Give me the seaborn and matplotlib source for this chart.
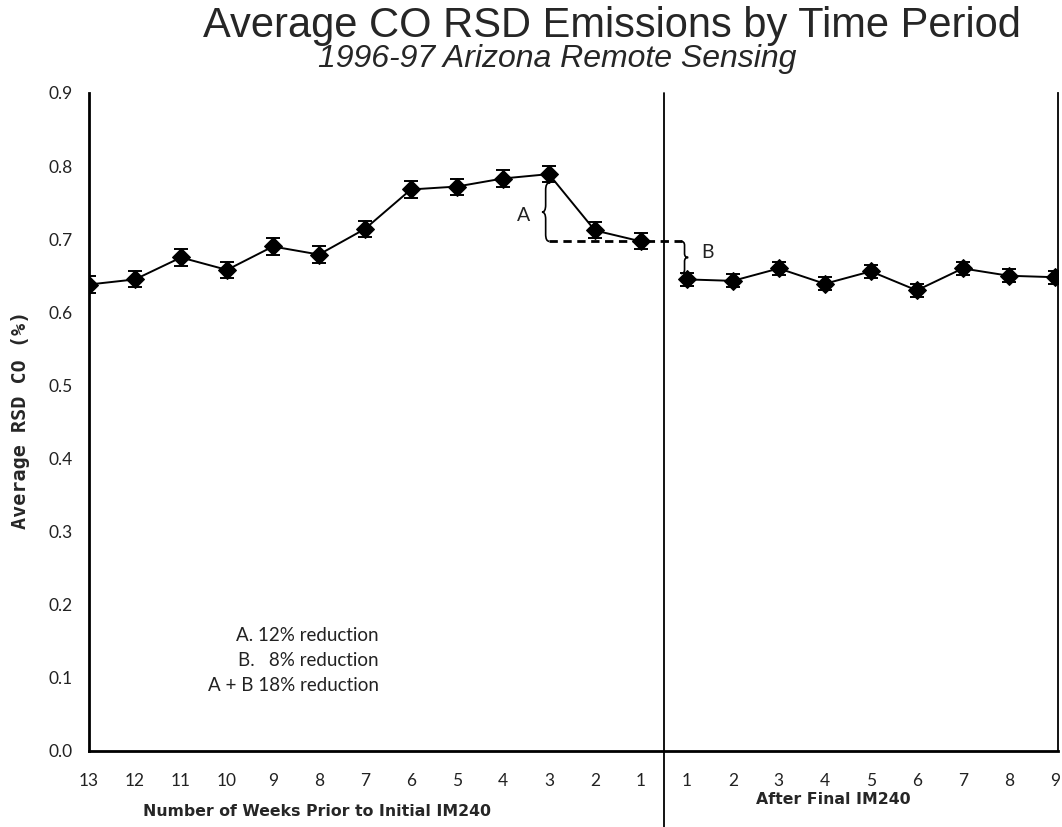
import numpy as np
import pandas as pd
import matplotlib
matplotlib.use("Agg")
import matplotlib.pyplot as plt
import seaborn as sns
from matplotlib.path import Path
from matplotlib.patches import PathPatch

# data
prior_weeks = ["13", "12", "11", "10", "9", "8", "7", "6", "5", "4", "3", "2", "1"]
prior_co = [0.638, 0.645, 0.675, 0.658, 0.690, 0.679, 0.714, 0.768, 0.772, 0.783, 0.789, 0.712, 0.697]
prior_err = [0.011] * 13
after_weeks = ["1", "2", "3", "4", "5", "6", "7", "8", "9"]
after_co = [0.645, 0.643, 0.660, 0.639, 0.656, 0.630, 0.660, 0.650, 0.648]
after_err = [0.009] * 9
notes = ["A. 12% reduction", "B.   8% reduction", "A + B 18% reduction"]

df = pd.DataFrame({
    "pos": np.arange(len(prior_co) + len(after_co)),
    "co": prior_co + after_co,
    "err": prior_err + after_err,
    "period": ["prior"] * len(prior_co) + ["after"] * len(after_co),
})
split = len(prior_co) - 0.5

sns.set_style("white")
plt.rcParams["font.family"] = ["Lato", "DejaVu Sans"]

fig = plt.figure(figsize=(10.62, 8.27), dpi=100)
ax = fig.add_axes([0.0838, 0.0919, 0.9124, 0.7957])

sns.lineplot(data=df, x="pos", y="co", hue="period", palette=["black", "black"],
             marker="D", markersize=9, markeredgecolor="black", lw=1.4,
             legend=False, ax=ax, zorder=3)
ax.errorbar(df["pos"], df["co"], yerr=df["err"], fmt="none", ecolor="black",
            elinewidth=1.2, capsize=5, capthick=1.4, zorder=2)

ax.set_xlim(0, len(df) - 1 + 0.07)
ax.set_ylim(0, 0.9)
ax.set_yticks(np.arange(0, 0.91, 0.1))
ax.set_yticklabels([f"{v:.1f}" for v in np.arange(0, 0.91, 0.1)], fontsize=12.5, color="#222222")
ax.set_xticks(df["pos"])
ax.set_xticklabels(prior_weeks + after_weeks, fontsize=12.5, color="#222222")
ax.tick_params(axis="both", direction="inout", length=12, width=1.2, colors="black",
               labelcolor="#222222")
ax.tick_params(axis="x", pad=10)
ax.tick_params(axis="y", pad=6)
ax.set_xlabel("")
ax.set_ylabel("Average RSD CO (%)", fontsize=14.5, fontweight="bold", family="DejaVu Sans Mono")
ax.yaxis.set_label_coords(-0.061, 0.503)

ax.spines["top"].set_visible(False)
ax.spines["left"].set_linewidth(2)
ax.spines["bottom"].set_linewidth(2)
ax.spines["right"].set_linewidth(1.3)
for s in ["left", "bottom", "right"]:
    ax.spines[s].set_color("black")

# divider between the two periods, running below the axis
ax.plot([split, split], [0.9, -0.105], color="black", lw=1.3, clip_on=False)


def brace(x, y0, y1, w, left=True):
    ym = (y0 + y1) / 2
    r = (y1 - y0) * 0.12
    s = 1 if left else -1
    verts = [(x + s * w / 2, y1), (x, y1), (x, y1 - r), (x, ym + r),
             (x, ym), (x - s * w / 2, ym), (x, ym), (x, ym - r),
             (x, y0 + r), (x, y0), (x + s * w / 2, y0)]
    codes = [Path.MOVETO, Path.CURVE3, Path.CURVE3, Path.LINETO,
             Path.CURVE3, Path.CURVE3, Path.CURVE3, Path.CURVE3,
             Path.LINETO, Path.CURVE3, Path.CURVE3]
    ax.add_patch(PathPatch(Path(verts, codes), fill=False, lw=1.2, color="black"))


# A: drop from week 3 peak to week 1, B: drop to the period after
brace(9.93, prior_co[-1], prior_co[10] - 0.012, 0.16, left=True)
ax.plot([10.0, 12.9], [prior_co[-1], prior_co[-1]], color="black", lw=2, ls=(0, (3, 2)))
brace(12.95, after_co[0] + 0.008, prior_co[-1], 0.16, left=False)
ax.text(9.45, 0.733, "A", fontsize=14, ha="center", va="center", color="#222222")
ax.text(13.45, 0.682, "B", fontsize=14, ha="center", va="center", color="#222222")

for note, y in zip(notes, [0.158, 0.124, 0.090]):
    ax.text(6.3, y, note, fontsize=13.5, ha="right", va="center", color="#222222")

fig.text(317 / 1062, 1 - 812 / 827, "Number of Weeks Prior to Initial IM240",
         fontsize=11.3, fontweight="bold", ha="center", va="center", family="DejaVu Sans")
fig.text(833 / 1062, 1 - 800 / 827, "After Final IM240",
         fontsize=11.3, fontweight="bold", ha="center", va="center", family="DejaVu Sans")

fig.text(203 / 1062, 1 - 37 / 827, "Average CO RSD Emissions by Time Period",
         fontsize=30, ha="left", va="baseline", family="Liberation Sans")
fig.text(557 / 1062, 1 - 67 / 827, "1996-97 Arizona Remote Sensing",
         fontsize=23, style="italic", ha="center", va="baseline", family="Liberation Sans")

fig.savefig("out.png", dpi=100)
